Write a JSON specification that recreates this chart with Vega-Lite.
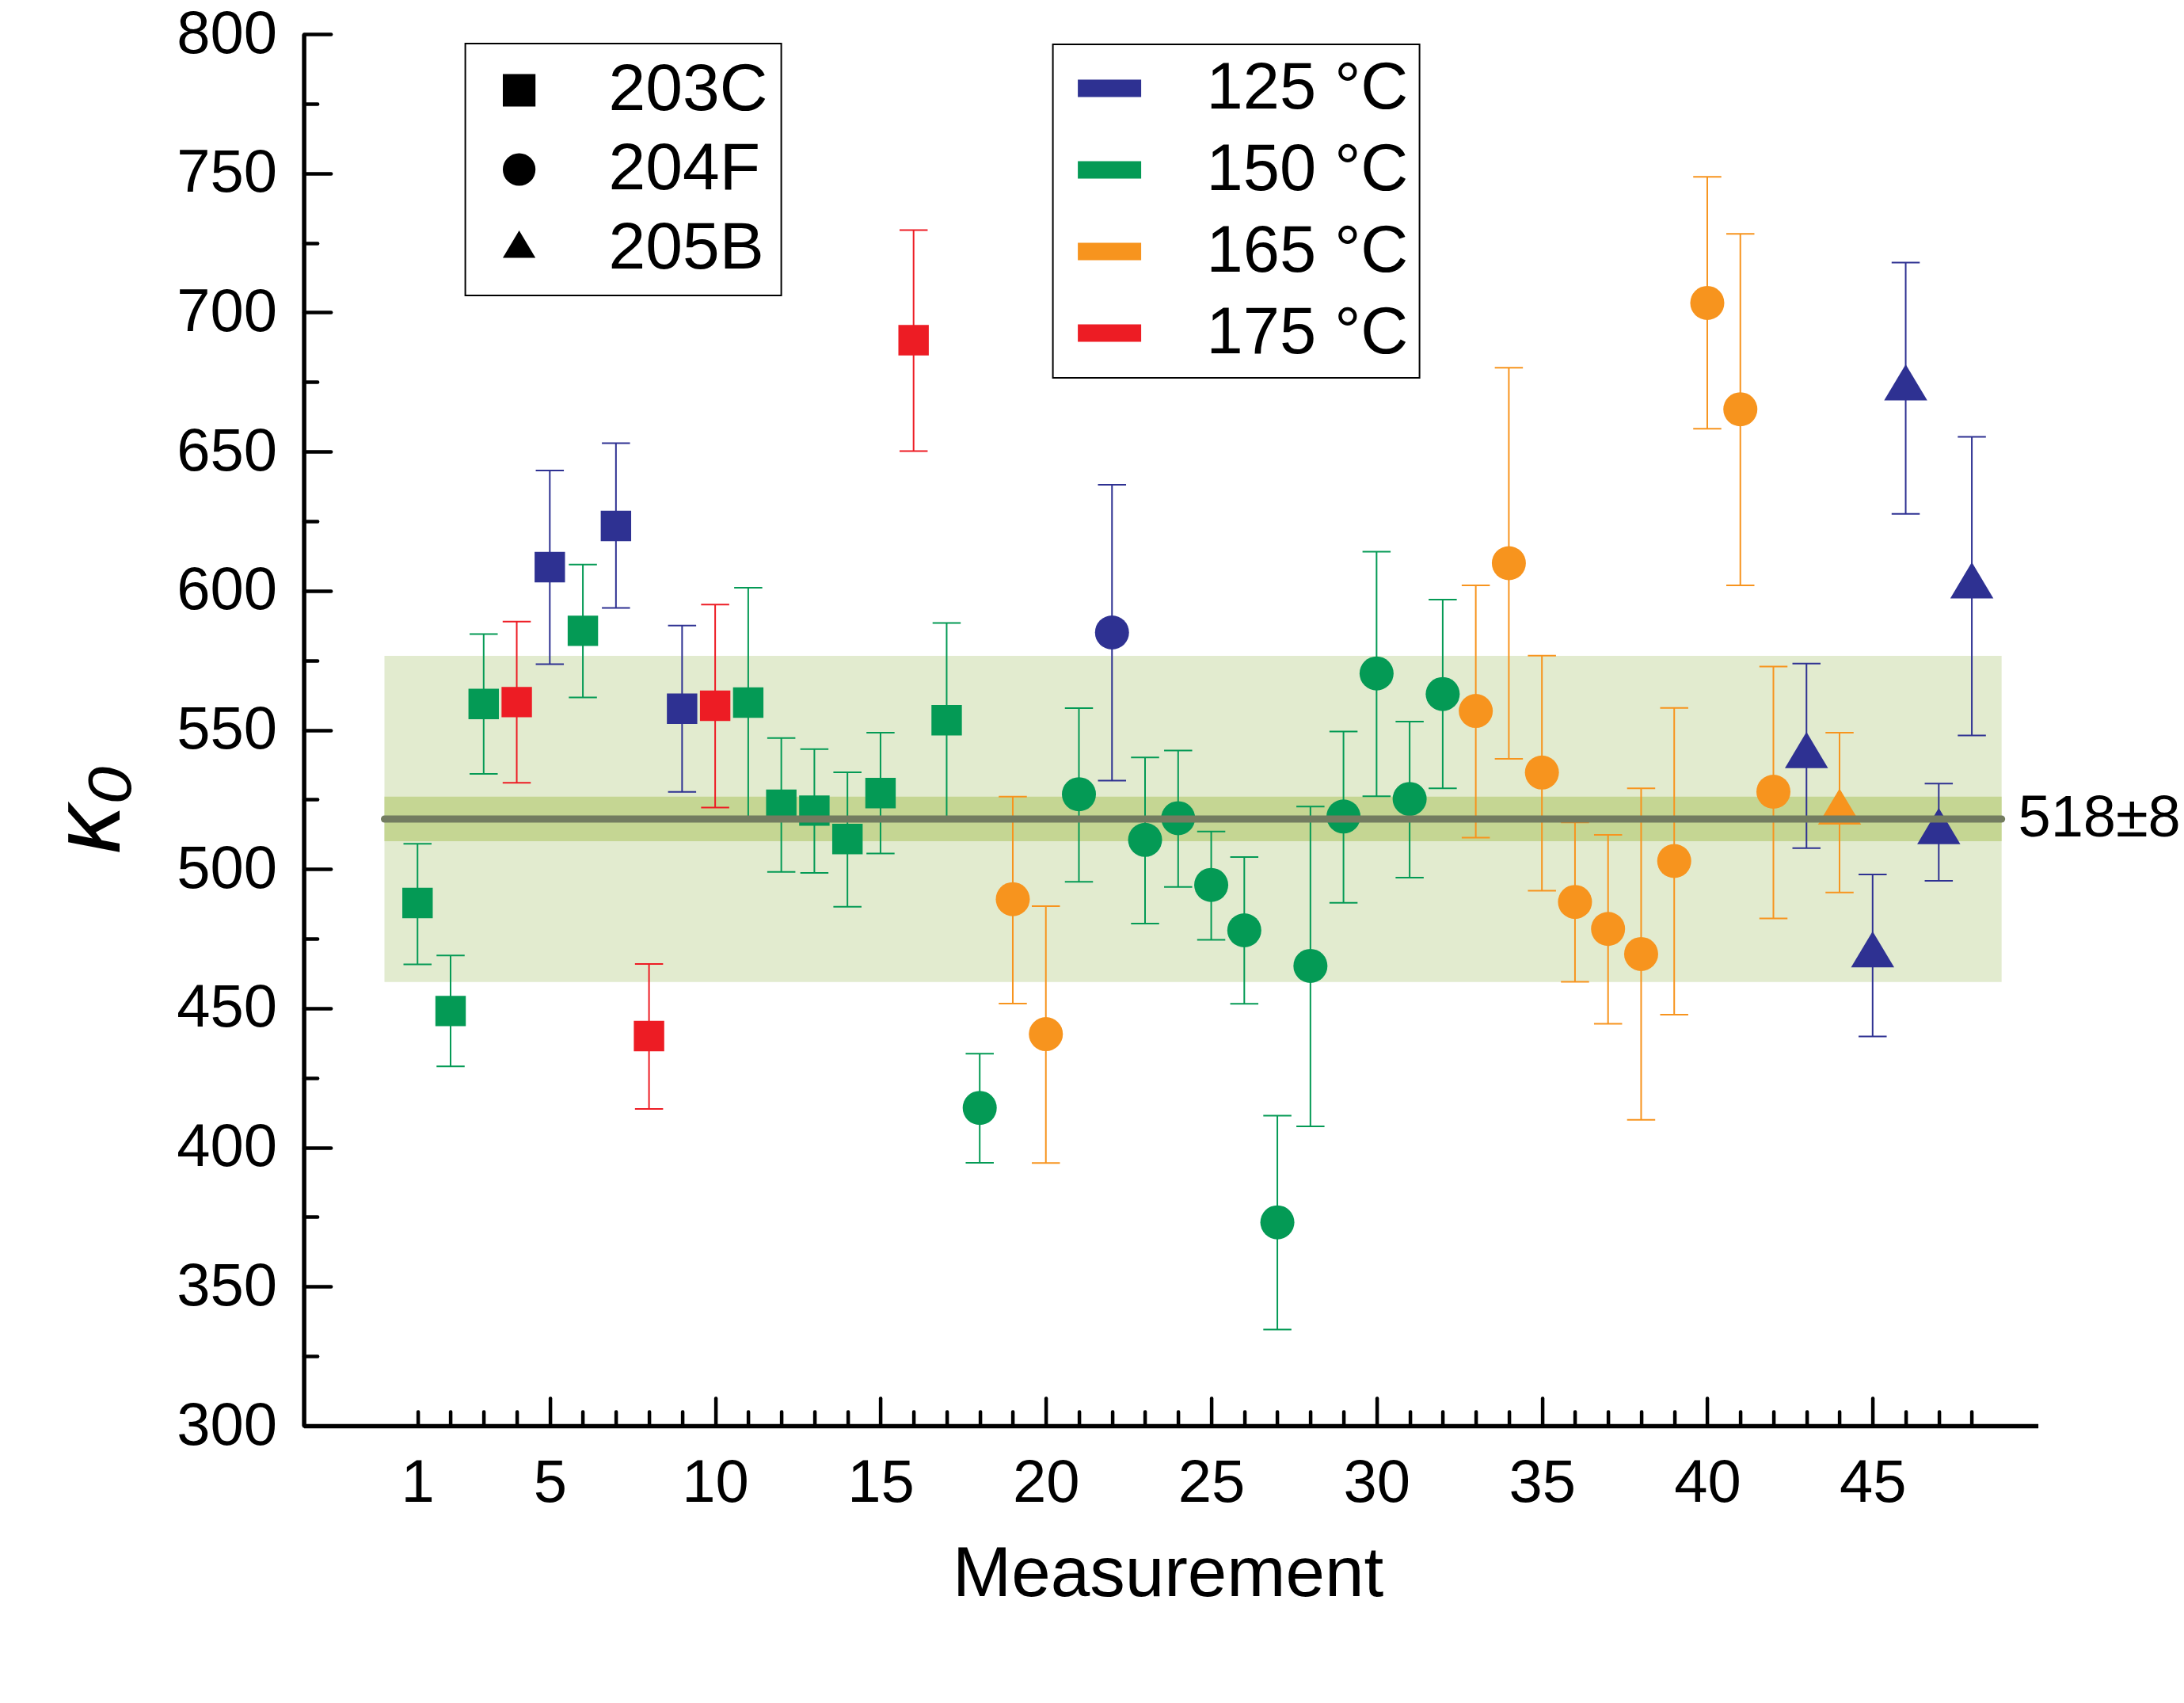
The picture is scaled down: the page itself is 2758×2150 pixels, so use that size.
{
  "$schema": "https://vega.github.io/schema/vega-lite/v6.json",
  "width": 2190,
  "height": 1757,
  "autosize": {"type": "none"},
  "padding": {"left": 383.6, "top": 43, "right": 184.4, "bottom": 350},
  "background": "white",
  "config": {
    "view": {"stroke": null},
    "font": "Liberation Sans",
    "legend": {"strokeWidth": 2, "labelLimit": 600}
  },
  "datasets": {
    "pts": [
      {"n": 1, "sample": "203C", "temp": "150 °C", "k": 487.8, "lo": 465.8, "hi": 509.1},
      {"n": 2, "sample": "203C", "temp": "150 °C", "k": 449.0, "lo": 429.1, "hi": 469.0},
      {"n": 3, "sample": "203C", "temp": "150 °C", "k": 559.3, "lo": 534.2, "hi": 584.4},
      {"n": 4, "sample": "203C", "temp": "175 °C", "k": 560.0, "lo": 531.0, "hi": 588.9},
      {"n": 5, "sample": "203C", "temp": "125 °C", "k": 608.5, "lo": 573.6, "hi": 643.2},
      {"n": 6, "sample": "203C", "temp": "150 °C", "k": 585.6, "lo": 561.7, "hi": 609.4},
      {"n": 7, "sample": "203C", "temp": "125 °C", "k": 623.3, "lo": 593.8, "hi": 653.0},
      {"n": 8, "sample": "203C", "temp": "175 °C", "k": 440.0, "lo": 413.8, "hi": 465.9},
      {"n": 9, "sample": "203C", "temp": "125 °C", "k": 557.6, "lo": 527.7, "hi": 587.5},
      {"n": 10, "sample": "203C", "temp": "175 °C", "k": 558.7, "lo": 522.1, "hi": 595.0},
      {"n": 11, "sample": "203C", "temp": "150 °C", "k": 559.8, "lo": 518.5, "hi": 601.1},
      {"n": 12, "sample": "203C", "temp": "150 °C", "k": 523.1, "lo": 499.0, "hi": 547.1},
      {"n": 13, "sample": "203C", "temp": "150 °C", "k": 521.0, "lo": 498.6, "hi": 543.1},
      {"n": 14, "sample": "203C", "temp": "150 °C", "k": 510.8, "lo": 486.5, "hi": 534.8},
      {"n": 15, "sample": "203C", "temp": "150 °C", "k": 527.3, "lo": 505.6, "hi": 549.0},
      {"n": 16, "sample": "203C", "temp": "175 °C", "k": 690.0, "lo": 650.2, "hi": 729.6},
      {"n": 17, "sample": "203C", "temp": "150 °C", "k": 553.5, "lo": 518.6, "hi": 588.4},
      {"n": 18, "sample": "204F", "temp": "150 °C", "k": 414.2, "lo": 394.5, "hi": 433.7},
      {"n": 19, "sample": "204F", "temp": "165 °C", "k": 489.2, "lo": 451.7, "hi": 526.0},
      {"n": 20, "sample": "204F", "temp": "165 °C", "k": 440.7, "lo": 394.4, "hi": 486.7},
      {"n": 21, "sample": "204F", "temp": "150 °C", "k": 526.9, "lo": 495.4, "hi": 557.8},
      {"n": 22, "sample": "204F", "temp": "125 °C", "k": 585.0, "lo": 531.8, "hi": 638.1},
      {"n": 23, "sample": "204F", "temp": "150 °C", "k": 510.5, "lo": 480.4, "hi": 540.1},
      {"n": 24, "sample": "204F", "temp": "150 °C", "k": 518.3, "lo": 493.6, "hi": 542.6},
      {"n": 25, "sample": "204F", "temp": "150 °C", "k": 494.3, "lo": 474.6, "hi": 513.5},
      {"n": 26, "sample": "204F", "temp": "150 °C", "k": 478.0, "lo": 451.6, "hi": 504.3},
      {"n": 27, "sample": "204F", "temp": "150 °C", "k": 373.1, "lo": 334.6, "hi": 411.4},
      {"n": 28, "sample": "204F", "temp": "150 °C", "k": 465.2, "lo": 407.6, "hi": 522.5},
      {"n": 29, "sample": "204F", "temp": "150 °C", "k": 518.9, "lo": 487.9, "hi": 549.4},
      {"n": 30, "sample": "204F", "temp": "150 °C", "k": 570.3, "lo": 526.2, "hi": 614.0},
      {"n": 31, "sample": "204F", "temp": "150 °C", "k": 525.2, "lo": 496.9, "hi": 553.0},
      {"n": 32, "sample": "204F", "temp": "150 °C", "k": 562.9, "lo": 529.0, "hi": 596.8},
      {"n": 33, "sample": "204F", "temp": "165 °C", "k": 556.8, "lo": 511.3, "hi": 601.9},
      {"n": 34, "sample": "204F", "temp": "165 °C", "k": 609.9, "lo": 539.6, "hi": 680.1},
      {"n": 35, "sample": "204F", "temp": "165 °C", "k": 534.7, "lo": 492.2, "hi": 576.7},
      {"n": 36, "sample": "204F", "temp": "165 °C", "k": 488.2, "lo": 459.5, "hi": 516.8},
      {"n": 37, "sample": "204F", "temp": "165 °C", "k": 478.5, "lo": 444.4, "hi": 512.3},
      {"n": 38, "sample": "204F", "temp": "165 °C", "k": 469.5, "lo": 409.9, "hi": 529.0},
      {"n": 39, "sample": "204F", "temp": "165 °C", "k": 502.9, "lo": 447.7, "hi": 557.9},
      {"n": 40, "sample": "204F", "temp": "165 °C", "k": 703.4, "lo": 658.2, "hi": 748.7},
      {"n": 41, "sample": "204F", "temp": "165 °C", "k": 665.2, "lo": 601.9, "hi": 728.2},
      {"n": 42, "sample": "204F", "temp": "165 °C", "k": 527.8, "lo": 482.3, "hi": 572.8},
      {"n": 43, "sample": "205B", "temp": "125 °C", "k": 540.6, "lo": 507.5, "hi": 573.8},
      {"n": 44, "sample": "205B", "temp": "165 °C", "k": 520.3, "lo": 491.6, "hi": 549.0},
      {"n": 45, "sample": "205B", "temp": "125 °C", "k": 469.0, "lo": 439.9, "hi": 498.1},
      {"n": 46, "sample": "205B", "temp": "125 °C", "k": 672.7, "lo": 627.6, "hi": 717.9},
      {"n": 47, "sample": "205B", "temp": "125 °C", "k": 513.3, "lo": 495.8, "hi": 530.7},
      {"n": 48, "sample": "205B", "temp": "125 °C", "k": 601.6, "lo": 548.0, "hi": 655.3}
    ]
  },
  "layer": [
    {
      "data": {"values": [{"x0": 0, "x1": 48.9, "lo": 459.4, "hi": 576.6}]},
      "mark": {"type": "rect", "color": "#E2EBCF"},
      "encoding": {
        "x": {"field": "x0", "type": "quantitative", "scale": {"domain": [-2.44, 50], "nice": false, "zero": false}},
        "x2": {"field": "x1"},
        "y": {"field": "lo", "type": "quantitative", "scale": {"domain": [300, 800], "nice": false, "zero": false}},
        "y2": {"field": "hi"}
      }
    },
    {
      "data": {"values": [{"x0": 0, "x1": 48.9, "lo": 510, "hi": 526}]},
      "mark": {"type": "rect", "color": "#C5D693"},
      "encoding": {
        "x": {"field": "x0", "type": "quantitative", "scale": {"domain": [-2.44, 50], "nice": false, "zero": false}},
        "x2": {"field": "x1"},
        "y": {"field": "lo", "type": "quantitative", "scale": {"domain": [300, 800], "nice": false, "zero": false}},
        "y2": {"field": "hi"}
      }
    },
    {
      "data": {"name": "pts"},
      "encoding": {
        "x": {
          "field": "n", "type": "quantitative",
          "scale": {"domain": [-2.44, 50], "nice": false, "zero": false},
          "axis": {
            "title": "Measurement",
            "values": [1,2,3,4,5,6,7,8,9,10,11,12,13,14,15,16,17,18,19,20,21,22,23,24,25,26,27,28,29,30,31,32,33,34,35,36,37,38,39,40,41,42,43,44,45,46,47,48],
            "labelExpr": "datum.value == 1 || datum.value % 5 == 0 ? datum.label : ''",
            "tickSize": {"condition": {"test": "datum.value % 5 == 0", "value": -35}, "value": -18},
            "labelPadding": {"condition": {"test": "datum.value % 5 == 0", "value": 70}, "value": 53},
            "tickWidth": 4.5, "tickColor": "black", "tickCap": "round",
            "domainColor": "black", "domainWidth": 5.5,
            "labelFont": "Liberation Sans", "labelFontSize": 76, "labelColor": "black",
            "labelOverlap": false, "labelFlush": false, "labelBound": false,
            "titleFont": "Liberation Sans", "titleFontSize": 89, "titleFontWeight": "normal", "titleColor": "black",
            "titleX": 1091, "titleY": 214, "titleBaseline": "alphabetic", "titleAlign": "center",
            "grid": false
          }
        },
        "color": {
          "field": "temp", "type": "nominal",
          "scale": {"domain": ["125 °C", "150 °C", "165 °C", "175 °C"], "range": ["#2E3192", "#049A55", "#F7941E", "#ED1C24"]},
          "legend": {
            "title": null, "orient": "none", "legendX": 946, "legendY": 13,
            "symbolType": "M-1,-0.275L1,-0.275L1,0.275L-1,0.275Z", "symbolSize": 6400, "symbolStrokeWidth": 0,
            "labelFont": "Liberation Sans", "labelFontSize": 83, "labelColor": "black", "labelOffset": 81,
            "rowPadding": 19, "padding": 14, "symbolOffset": 16, "strokeColor": "black"
          }
        },
        "shape": {
          "field": "sample", "type": "nominal",
          "scale": {"domain": ["203C", "204F", "205B"], "range": ["square", "circle", "M0,-1.117L1,0.558L-1,0.558Z"]},
          "legend": {
            "title": null, "orient": "none", "legendX": 204, "legendY": 12,
            "symbolFillColor": "black", "symbolStrokeWidth": 0, "symbolSize": 1700,
            "labelFont": "Liberation Sans", "labelFontSize": 84, "labelColor": "black", "labelOffset": 71,
            "rowPadding": 16, "padding": 17, "symbolOffset": 9, "strokeColor": "black"
          }
        }
      },
      "layer": [
        {
          "mark": {"type": "rule", "strokeWidth": 2},
          "encoding": {
            "y": {"field": "lo", "type": "quantitative", "scale": {"domain": [300, 800], "nice": false, "zero": false}},
            "y2": {"field": "hi"},
            "shape": null
          }
        },
        {
          "mark": {"type": "tick", "orient": "horizontal", "size": 35.5, "thickness": 2, "opacity": 1},
          "encoding": {
            "y": {"field": "lo", "type": "quantitative", "scale": {"domain": [300, 800], "nice": false, "zero": false}},
            "shape": null
          }
        },
        {
          "mark": {"type": "tick", "orient": "horizontal", "size": 35.5, "thickness": 2, "opacity": 1},
          "encoding": {
            "y": {"field": "hi", "type": "quantitative", "scale": {"domain": [300, 800], "nice": false, "zero": false}},
            "shape": null
          }
        },
        {
          "transform": [{"filter": "datum.sample == '203C'"}],
          "mark": {"type": "point", "filled": true, "opacity": 1, "strokeWidth": 0, "size": 1475},
          "encoding": {
            "y": {
              "field": "k", "type": "quantitative",
              "scale": {"domain": [300, 800], "nice": false, "zero": false},
              "axis": {
                "title": "κ₀",
                "values": [300,325,350,375,400,425,450,475,500,525,550,575,600,625,650,675,700,725,750,775,800],
                "labelExpr": "datum.value % 50 == 0 ? datum.label : ''",
                "tickSize": {"condition": {"test": "datum.value % 50 == 0", "value": -34}, "value": -17},
                "tickWidth": 4.5, "tickColor": "black", "tickCap": "round",
                "domainColor": "black", "domainWidth": 5.5,
                "labelFont": "Liberation Sans", "labelFontSize": 76, "labelColor": "black",
                "labelPadding": 68, "labelOverlap": false, "labelFlush": false, "labelBound": false,
                "titleFont": "Liberation Sans", "titleFontSize": 122, "titleFontStyle": "italic", "titleFontWeight": "normal", "titleColor": "black",
                "titleAngle": 270, "titleX": -270, "titleY": 978, "titleAlign": "center", "titleBaseline": "middle",
                "grid": false
              }
            }
          }
        },
        {
          "transform": [{"filter": "datum.sample == '204F'"}],
          "mark": {"type": "point", "filled": true, "opacity": 1, "strokeWidth": 0, "size": 1849},
          "encoding": {
            "y": {"field": "k", "type": "quantitative", "scale": {"domain": [300, 800], "nice": false, "zero": false}}
          }
        },
        {
          "transform": [{"filter": "datum.sample == '205B'"}],
          "mark": {"type": "point", "filled": true, "opacity": 1, "strokeWidth": 0, "size": 2970},
          "encoding": {
            "y": {"field": "k", "type": "quantitative", "scale": {"domain": [300, 800], "nice": false, "zero": false}}
          }
        }
      ]
    },
    {
      "data": {"values": [{"x0": 0, "x1": 48.9, "m": 518}]},
      "mark": {"type": "rule", "color": "#737C60", "strokeWidth": 9, "strokeCap": "round"},
      "encoding": {
        "x": {"field": "x0", "type": "quantitative", "scale": {"domain": [-2.44, 50], "nice": false, "zero": false}},
        "x2": {"field": "x1"},
        "y": {"field": "m", "type": "quantitative", "scale": {"domain": [300, 800], "nice": false, "zero": false}}
      }
    },
    {
      "data": {"values": [{"x": 49.4, "m": 518, "t": "518±8"}]},
      "mark": {"type": "text", "align": "left", "baseline": "middle", "fontSize": 74, "font": "Liberation Sans", "color": "black"},
      "encoding": {
        "x": {"field": "x", "type": "quantitative", "scale": {"domain": [-2.44, 50], "nice": false, "zero": false}},
        "y": {"field": "m", "type": "quantitative", "scale": {"domain": [300, 800], "nice": false, "zero": false}},
        "text": {"field": "t"}
      }
    }
  ]
}
